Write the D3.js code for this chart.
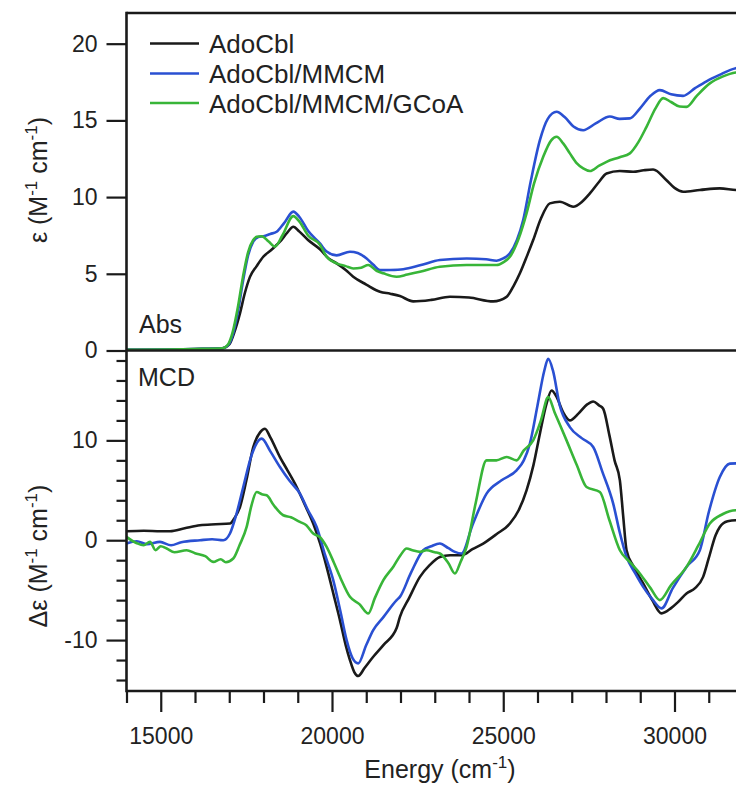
<!DOCTYPE html>
<html>
<head>
<meta charset="utf-8">
<script src="https://cdn.jsdelivr.net/npm/d3@7"></script>
<style>
  html, body { margin: 0; padding: 0; background: #fff; }
  svg { display: block; }
  text { font-family: "Liberation Sans", Arial, sans-serif; fill: #222; }
</style>
</head>
<body>
<svg id="chart" width="736" height="787"></svg>
<script>
// ---------- DATA ----------
const seriesNames = ["AdoCbl", "AdoCbl/MMCM", "AdoCbl/MMCM/GCoA"];
const seriesColors = ["#1a1a1a", "#2a50d2", "#38b538"];

const xTicksMajor = [15000, 20000, 25000, 30000];
const absTicks = [0, 5, 10, 15, 20];
const mcdTicksMajor = [-10, 0, 10];

// Abs spectra [energy cm-1, epsilon]
const absAdoCbl = [[14000,0.05],[15000,0.05],[16000,0.1],[16800,0.15],[17000,0.4],[17150,1.2],[17313,2.42],[17450,3.7],[17605,4.8],[17800,5.5],[17993,6.11],[18250,6.6],[18480,7.09],[18700,7.7],[18870,8.07],[19050,7.75],[19300,7.2],[19648,6.6],[19900,6.0],[20135,5.68],[20400,5.25],[20620,4.81],[21000,4.3],[21400,3.83],[21700,3.7],[21983,3.55],[22372,3.2],[22900,3.3],[23443,3.5],[24000,3.45],[24706,3.2],[25097,3.5],[25300,4.2],[25486,5.03],[25700,6.2],[25874,7.2],[26100,8.6],[26361,9.59],[26653,9.7],[27042,9.37],[27300,9.7],[27529,10.24],[27800,11.0],[28016,11.54],[28400,11.7],[28793,11.65],[29100,11.75],[29376,11.8],[29767,11.1],[30000,10.6],[30252,10.35],[30740,10.46],[31323,10.57],[31800,10.46],[32000,10.45]];
const absMMCM = [[14000,0.05],[16000,0.1],[16800,0.15],[16950,0.3],[17100,1.0],[17250,2.5],[17400,4.5],[17550,6.2],[17700,7.1],[17850,7.4],[18000,7.45],[18200,7.6],[18384,7.74],[18600,8.3],[18870,9.05],[19050,8.7],[19300,7.8],[19648,6.98],[19843,6.45],[20135,6.2],[20524,6.44],[20750,6.35],[21011,6.0],[21200,5.6],[21400,5.24],[21700,5.25],[22080,5.3],[22567,5.55],[23150,5.9],[23930,6.0],[24500,5.95],[24806,5.85],[25000,6.0],[25194,6.33],[25400,7.2],[25582,8.5],[25800,11.0],[26070,13.71],[26300,15.1],[26557,15.56],[26800,15.2],[27050,14.6],[27334,14.36],[27700,14.8],[28113,15.25],[28400,15.1],[28696,15.13],[29000,15.8],[29300,16.6],[29572,16.97],[29900,16.7],[30252,16.6],[30600,17.1],[30935,17.55],[31300,17.95],[31790,18.4],[32000,18.45]];
const absGCoA = [[14000,0.05],[16000,0.1],[16800,0.15],[16950,0.35],[17100,1.2],[17250,2.8],[17400,4.8],[17550,6.4],[17700,7.2],[17800,7.41],[17946,7.45],[18150,7.1],[18335,6.77],[18550,7.5],[18870,8.76],[19050,8.4],[19300,7.5],[19648,6.9],[19843,6.11],[20135,5.68],[20400,5.5],[20620,5.35],[20850,5.4],[21060,5.57],[21300,5.2],[21500,5.03],[21886,4.81],[22200,4.95],[22567,5.13],[23150,5.46],[23930,5.57],[24806,5.57],[25000,5.75],[25194,6.11],[25450,7.3],[25680,8.94],[25900,10.9],[26167,12.63],[26400,13.7],[26557,13.93],[26750,13.5],[26945,12.85],[27150,12.2],[27334,11.87],[27529,11.7],[27800,12.05],[28016,12.3],[28400,12.6],[28696,12.85],[28950,13.6],[29183,14.58],[29450,15.8],[29668,16.45],[29900,16.2],[30150,15.9],[30350,15.88],[30650,16.6],[31032,17.41],[31400,17.85],[31790,18.12],[32000,18.15]];

// MCD spectra [energy cm-1, delta epsilon]
const mcdAdoCbl = [[14000,0.9],[14500,0.95],[15000,0.9],[15270,0.9],[15700,1.2],[16145,1.5],[16600,1.6],[17021,1.67],[17150,2.2],[17313,3.33],[17500,6.0],[17701,9.33],[17900,10.8],[18043,11.17],[18200,10.3],[18480,8.33],[18700,7.0],[18968,5.33],[19200,3.6],[19452,1.67],[19650,-0.3],[19843,-2.67],[20050,-5.5],[20232,-8.0],[20400,-10.5],[20524,-12.0],[20650,-13.2],[20766,-13.6],[20950,-12.8],[21204,-11.67],[21500,-10.5],[21887,-8.8],[21983,-7.67],[22250,-5.8],[22567,-3.67],[22850,-2.5],[23150,-1.67],[23450,-1.5],[23784,-1.5],[24100,-0.9],[24415,-0.33],[24800,0.6],[25194,1.67],[25450,3.0],[25680,5.0],[25880,7.5],[26070,10.67],[26250,13.5],[26411,15.0],[26550,14.4],[26750,12.8],[26945,12.0],[27200,12.7],[27450,13.6],[27626,13.9],[27800,13.5],[27918,13.17],[28100,10.5],[28250,8.0],[28405,6.0],[28500,2.5],[28600,-1.0],[28800,-2.6],[29085,-4.33],[29350,-6.0],[29622,-7.33],[29900,-6.8],[30100,-6.2],[30350,-5.33],[30600,-4.8],[30836,-3.67],[31000,-1.8],[31200,0.5],[31323,1.33],[31550,1.9],[31790,2.0],[32000,2.0]];
const mcdMMCM = [[14000,-0.33],[14300,-0.1],[14600,-0.4],[14978,-0.17],[15300,-0.5],[15600,-0.2],[16145,0],[16500,0.1],[16826,0],[17021,0.67],[17200,2.5],[17409,5.33],[17650,8.5],[17946,10.17],[18200,8.9],[18480,7.33],[18750,6.0],[19064,4.67],[19300,3.0],[19552,1.33],[19800,-1.5],[20036,-4.0],[20250,-7.2],[20427,-10.0],[20600,-11.8],[20766,-12.33],[21000,-10.5],[21204,-9.0],[21500,-7.7],[21887,-6.0],[21983,-5.67],[22300,-3.3],[22664,-1.0],[22900,-0.6],[23150,-0.33],[23400,-0.8],[23589,-1.17],[23784,-1.33],[24100,1.5],[24513,4.67],[24950,6.0],[25389,7.0],[25600,8.0],[25778,9.67],[26000,13.5],[26200,17.0],[26313,18.17],[26450,17.0],[26650,13.5],[26945,11.33],[27300,10.2],[27626,9.33],[27900,6.8],[28210,3.67],[28400,0.8],[28600,-1.67],[28850,-3.3],[29085,-4.67],[29350,-5.9],[29622,-6.83],[29950,-4.8],[30350,-2.67],[30740,-1.0],[31000,2.8],[31323,6.33],[31615,7.67],[31800,7.7],[32000,7.7]];
const mcdGCoA = [[14000,0.33],[14300,-0.3],[14500,-0.5],[14686,-0.17],[14850,-1.0],[15000,-0.6],[15173,-0.83],[15400,-1.2],[15757,-1.0],[16000,-1.3],[16300,-1.6],[16533,-2.17],[16750,-1.9],[16900,-2.2],[17117,-1.83],[17300,-0.5],[17508,1.33],[17650,3.5],[17800,4.83],[17950,4.6],[18092,4.5],[18300,3.5],[18577,2.5],[18800,2.3],[19064,1.83],[19250,1.5],[19452,0.67],[19650,0.3],[19843,-0.67],[20050,-2.2],[20250,-3.8],[20524,-5.67],[20800,-6.4],[21060,-7.33],[21250,-5.8],[21500,-4.0],[21800,-2.6],[22000,-1.5],[22179,-0.83],[22350,-1.0],[22567,-1.17],[22761,-1.0],[23000,-1.2],[23150,-1.33],[23400,-2.3],[23589,-3.33],[23750,-2.2],[23930,-0.67],[24200,3.8],[24513,8.0],[24800,8.0],[25097,8.33],[25389,8.0],[25600,9.0],[25874,10.0],[26100,12.0],[26313,14.33],[26500,12.8],[26848,10.0],[27150,7.5],[27431,5.33],[27821,4.83],[28100,2.0],[28405,-1.0],[28700,-2.2],[28988,-3.33],[29300,-4.8],[29572,-6.0],[29900,-4.5],[30350,-2.67],[30700,-0.5],[31032,1.67],[31400,2.6],[31790,3.0],[32000,3.0]];

const absSeries = [absAdoCbl, absMMCM, absGCoA];
const mcdSeries = [mcdAdoCbl, mcdMMCM, mcdGCoA];

// ---------- LAYOUT ----------
const left = 126.5, right = 743;
const absTop = 13, absBottom = 350.5;
const mcdTop = 350.5, mcdBottom = 691;

const x = d3.scaleLinear().domain([14000, 32000]).range([left, right]);
const yAbs = d3.scaleLinear().domain([0, 22]).range([absBottom, absTop]);
const yMcd = d3.scaleLinear().domain([-15.1, 19]).range([mcdBottom, mcdTop]);

const svg = d3.select("#chart");
svg.append("rect").attr("width", 736).attr("height", 787).attr("fill", "#fff");

const defs = svg.append("defs");
defs.append("clipPath").attr("id", "clipAbs").append("rect")
  .attr("x", left).attr("y", absTop).attr("width", right - left).attr("height", absBottom - absTop);
defs.append("clipPath").attr("id", "clipMcd").append("rect")
  .attr("x", left).attr("y", mcdTop).attr("width", right - left).attr("height", mcdBottom - mcdTop);

const fontTick = 23;
const plainFmt = d => String(d);

function styleAxis(g) {
  g.select(".domain").remove();
  g.selectAll(".tick line").attr("stroke", "#1a1a1a").attr("stroke-width", 2.2);
  g.selectAll(".tick text").attr("font-size", fontTick).attr("fill", "#222")
    .style("font-family", "'Liberation Sans', Arial, sans-serif");
}

// Abs y axis
svg.append("g").attr("transform", `translate(${left},0)`)
  .call(d3.axisLeft(yAbs).tickValues(absTicks).tickSize(20).tickPadding(9).tickFormat(plainFmt))
  .call(styleAxis);

// MCD y axis minor
svg.append("g").attr("transform", `translate(${left},0)`)
  .call(d3.axisLeft(yMcd).tickValues(d3.range(-14, 19, 2).filter(v => v % 10 !== 0)).tickSize(10).tickFormat(""))
  .call(styleAxis);
// MCD y axis major
svg.append("g").attr("transform", `translate(${left},0)`)
  .call(d3.axisLeft(yMcd).tickValues(mcdTicksMajor).tickSize(20).tickPadding(9).tickFormat(plainFmt))
  .call(styleAxis);

// X axis minor
svg.append("g").attr("transform", `translate(0,${mcdBottom})`)
  .call(d3.axisBottom(x).tickValues(d3.range(14000, 32001, 1000).filter(v => v % 5000 !== 0)).tickSize(12).tickFormat(""))
  .call(styleAxis);
// X axis major
svg.append("g").attr("transform", `translate(0,${mcdBottom})`)
  .call(d3.axisBottom(x).tickValues(xTicksMajor).tickSize(21).tickPadding(16).tickFormat(plainFmt))
  .call(styleAxis);

// Curves
const lineAbs = d3.line().x(d => x(d[0])).y(d => yAbs(d[1])).curve(d3.curveMonotoneX);
const lineMcd = d3.line().x(d => x(d[0])).y(d => yMcd(d[1])).curve(d3.curveMonotoneX);

const gAbs = svg.append("g").attr("clip-path", "url(#clipAbs)");
const gMcd = svg.append("g").attr("clip-path", "url(#clipMcd)");
[0, 1, 2].forEach(i => {
  gAbs.append("path").datum(absSeries[i]).attr("d", lineAbs)
    .attr("fill", "none").attr("stroke", seriesColors[i]).attr("stroke-width", 2.6)
    .attr("stroke-linejoin", "round");
  gMcd.append("path").datum(mcdSeries[i]).attr("d", lineMcd)
    .attr("fill", "none").attr("stroke", seriesColors[i]).attr("stroke-width", 2.6)
    .attr("stroke-linejoin", "round");
});

// Frame
const frame = svg.append("g").attr("stroke", "#1a1a1a").attr("stroke-width", 2.6).attr("fill", "none");
frame.append("line").attr("x1", left).attr("x2", 736).attr("y1", absTop).attr("y2", absTop);
frame.append("line").attr("x1", left).attr("x2", 736).attr("y1", absBottom).attr("y2", absBottom);
frame.append("line").attr("x1", left).attr("x2", 736).attr("y1", mcdBottom).attr("y2", mcdBottom);
frame.append("line").attr("x1", left).attr("x2", left).attr("y1", absTop - 1.3).attr("y2", mcdBottom + 1.3);

// Panel labels
svg.append("text").attr("x", 139).attr("y", 333).attr("font-size", 25).text("Abs");
svg.append("text").attr("x", 138).attr("y", 386).attr("font-size", 25).text("MCD");

// Legend
const legendY = [43.5, 73.5, 103];
seriesNames.forEach((name, i) => {
  svg.append("line").attr("x1", 150).attr("x2", 199).attr("y1", legendY[i]).attr("y2", legendY[i])
    .attr("stroke", seriesColors[i]).attr("stroke-width", 2.6);
  svg.append("text").attr("x", 209).attr("y", legendY[i] + 9.5).attr("font-size", 26).text(name);
});

// Axis titles
function unitTitle(g, prefix) {
  const t = g.append("text").attr("font-size", 25).attr("text-anchor", "middle");
  t.append("tspan").text(prefix + " (M");
  t.append("tspan").attr("font-size", 17).attr("dy", -10).text("-1");
  t.append("tspan").attr("dy", 10).text(" cm");
  t.append("tspan").attr("font-size", 17).attr("dy", -10).text("-1");
  t.append("tspan").attr("dy", 10).text(")");
  return t;
}
unitTitle(svg.append("g").attr("transform", "translate(47,180) rotate(-90)"), "ε");
unitTitle(svg.append("g").attr("transform", "translate(47,556) rotate(-90)"), "Δε");

const xt = svg.append("text").attr("x", 440).attr("y", 778).attr("font-size", 25).attr("text-anchor", "middle");
xt.append("tspan").text("Energy (cm");
xt.append("tspan").attr("font-size", 17).attr("dy", -10).text("-1");
xt.append("tspan").attr("dy", 10).text(")");
</script>
</body>
</html>
